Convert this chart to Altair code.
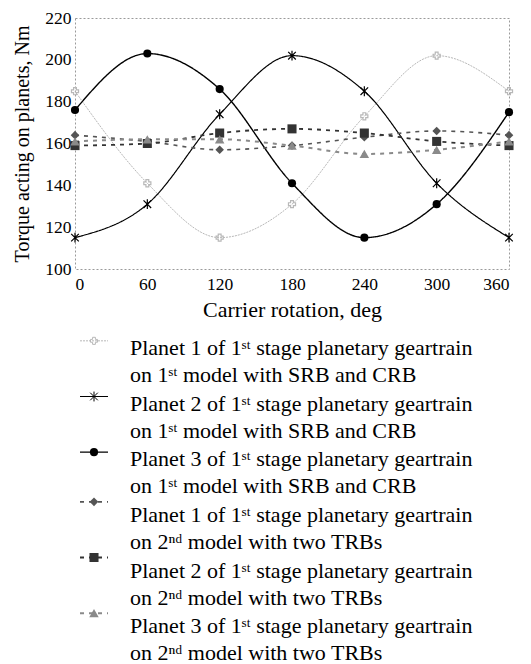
import altair as alt
import pandas as pd

angles = [0, 60, 120, 180, 240, 300, 360]
p1_m1 = [185, 141, 115, 131, 173, 202, 185]
p2_m1 = [115, 131, 174, 202, 185, 141, 115]
p3_m1 = [176, 203, 186, 141, 115, 131, 175]
p1_m2 = [164, 161, 157, 159, 163, 166, 164]
p2_m2 = [159, 160, 165, 167, 165, 161, 159]
p3_m2 = [161, 162, 162, 159, 155, 157, 161]

series_ids = ["s1", "s2", "s3", "s4", "s5", "s6"]
series_labels = [
    "Planet 1 of 1ˢᵗ stage planetary geartrain\non 1ˢᵗ model with SRB and CRB",
    "Planet 2 of 1ˢᵗ stage planetary geartrain\non 1ˢᵗ model with SRB and CRB",
    "Planet 3 of 1ˢᵗ stage planetary geartrain\non 1ˢᵗ model with SRB and CRB",
    "Planet 1 of 1ˢᵗ stage planetary geartrain\non 2ⁿᵈ model with two TRBs",
    "Planet 2 of 1ˢᵗ stage planetary geartrain\non 2ⁿᵈ model with two TRBs",
    "Planet 3 of 1ˢᵗ stage planetary geartrain\non 2ⁿᵈ model with two TRBs",
]
all_values = [p1_m1, p2_m1, p3_m1, p1_m2, p2_m2, p3_m2]

rows = []
for sid, vals in zip(series_ids, all_values):
    for a, v in zip(angles, vals):
        rows.append({"series": sid, "angle": a, "torque": v})
df = pd.DataFrame(rows)
leg = pd.DataFrame({"series": series_ids, "label": series_labels})

FONT = "'Liberation Serif', 'Times New Roman', Times, serif"
colors = ["#b8b8b8", "#000000", "#000000", "#555555", "#333333", "#8a8a8a"]
widths = [1, 2, 2, 1.5, 1.5, 1.5]
dashes = [[2, 1], [1, 0], [1, 0], [4, 5], [4, 5], [4, 5]]
ASTER = "M-1,-1L1,1M-1,1L1,-1M0,-1.3L0,1.3"
shapes = ["cross", ASTER, "circle", "diamond", "square", "triangle-up"]
sizes = [50, 90, 110, 80, 70, 70]
leg_sizes = [12, 15, 40, 35, 35, 30]

col = alt.Color("series:N", scale=alt.Scale(domain=series_ids, range=colors), legend=None)
sw = alt.StrokeWidth("series:N", scale=alt.Scale(domain=series_ids, range=widths), legend=None)
sd = alt.StrokeDash("series:N", scale=alt.Scale(domain=series_ids, range=dashes), legend=None)
shp = alt.Shape("series:N", scale=alt.Scale(domain=series_ids, range=shapes), legend=None)
sz = alt.Size("series:N", scale=alt.Scale(domain=series_ids, range=sizes), legend=None)
lsz = alt.Size("series:N", scale=alt.Scale(domain=series_ids, range=leg_sizes), legend=None)

xenc = alt.X("angle:Q", scale=alt.Scale(domain=[0, 360], nice=False),
             axis=alt.Axis(values=angles, title="Carrier rotation, deg", grid=False,
                           ticks=False, domain=False, labelPadding=6, titlePadding=7,
                           titleFontSize=22))
yenc = alt.Y("torque:Q", scale=alt.Scale(domain=[100, 220], nice=False),
             axis=alt.Axis(values=[100, 120, 140, 160, 180, 200, 220],
                           title="Torque acting on planets, Nm", grid=False,
                           ticks=False, domain=False, labelPadding=4, titlePadding=12,
                           titleFontSize=20))

base = alt.Chart(df)
lines = base.mark_line(interpolate="monotone").encode(
    x=xenc, y=yenc, color=col, strokeWidth=sw, strokeDash=sd, detail="series:N")
pts_open = base.transform_filter(
    alt.FieldOneOfPredicate(field="series", oneOf=["s1", "s2"])
).mark_point(filled=False, strokeWidth=1.2, opacity=1).encode(
    x="angle:Q", y="torque:Q", color=col, shape=shp, size=sz)
pts_fill = base.transform_filter(
    alt.FieldOneOfPredicate(field="series", oneOf=["s3", "s4", "s5", "s6"])
).mark_point(filled=True, opacity=1).encode(
    x="angle:Q", y="torque:Q", color=col, shape=shp, size=sz)

top = alt.layer(lines, pts_open, pts_fill).properties(width=434, height=251)

lbase = alt.Chart(leg)
ly = alt.Y("series:N", sort=series_ids, axis=None,
           scale=alt.Scale(paddingInner=0, paddingOuter=0))

first = alt.FieldOneOfPredicate(field="series", oneOf=["s1", "s2", "s3"])
second = alt.FieldOneOfPredicate(field="series", oneOf=["s4", "s5", "s6"])
openp = alt.FieldOneOfPredicate(field="series", oneOf=["s1", "s2"])
fillp = alt.FieldOneOfPredicate(field="series", oneOf=["s3", "s4", "s5", "s6"])

sym_layers = []
for grp, off in [(first, -8), (second, -14)]:
    sb = lbase.transform_filter(grp)
    sym_layers.append(sb.mark_rule(yOffset=off).encode(
        y=ly, x=alt.value(5), x2=alt.value(33), color=col, strokeWidth=sw, strokeDash=sd))
    sym_layers.append(sb.transform_filter(openp).mark_point(
        filled=False, yOffset=off, strokeWidth=1, opacity=1).encode(
        y=ly, x=alt.value(19), color=col, shape=shp, size=lsz))
    sym_layers.append(sb.transform_filter(fillp).mark_point(
        filled=True, yOffset=off, opacity=1).encode(
        y=ly, x=alt.value(19), color=col, shape=shp, size=lsz))

ltext = lbase.mark_text(align="left", baseline="middle", lineBreak="\n", lineHeight=27,
                        dy=-1, font=FONT, fontSize=22, color="black").encode(
    y=ly, x=alt.value(55), text="label:N")

legend = alt.layer(*sym_layers, ltext).properties(
    width=434, height=334, view=alt.ViewBackground(strokeOpacity=0))

chart = alt.vconcat(top, legend, spacing=0).properties(
    padding={"left": 12, "top": 8, "right": 5, "bottom": 5}
).configure_view(
    stroke="#9a9a9a", strokeDash=[2, 2], strokeWidth=1
).configure_axis(
    labelFont=FONT, titleFont=FONT, labelFontSize=17.5,
    labelColor="black", titleColor="black", titleFontWeight="normal"
).configure_text(font=FONT).configure_concat(spacing=0)

chart.save("out.html", embed_options={"renderer": "svg", "actions": False})
